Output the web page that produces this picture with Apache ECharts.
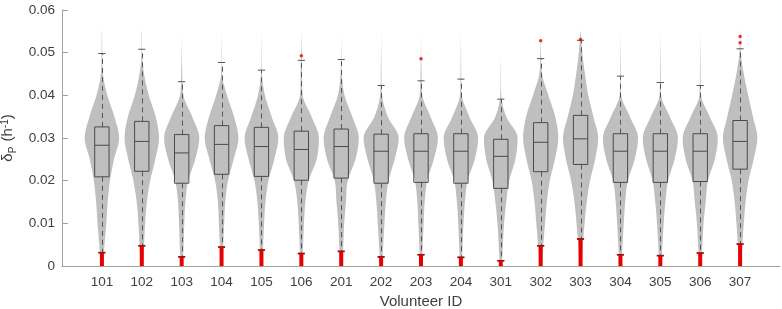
<!DOCTYPE html>
<html>
<head>
<meta charset="utf-8">
<script src="https://cdn.jsdelivr.net/npm/echarts@6/dist/echarts.min.js"></script>
<style>
html,body{margin:0;padding:0;background:#fff;}
#chart{width:782px;height:309px;}
</style>
</head>
<body>
<div id="chart"></div>
<script>
// ---- data ----
const ids = ['101','102','103','104','105','106','201','202','203','204','301','302','303','304','305','306','307'];
const whiskerHigh = [0.0498,0.0508,0.0432,0.0477,0.0459,0.0482,0.0484,0.0423,0.0434,0.0438,0.0391,0.0486,0.0529,0.0445,0.0430,0.0423,0.0509];
const q3          = [0.0326,0.0339,0.0308,0.0329,0.0325,0.0316,0.0321,0.0309,0.0310,0.0310,0.0297,0.0336,0.0353,0.0310,0.0310,0.0310,0.0341];
const median      = [0.0283,0.0292,0.0265,0.0285,0.0280,0.0273,0.0280,0.0269,0.0269,0.0269,0.0257,0.0290,0.0298,0.0269,0.0269,0.0269,0.0292];
const q1          = [0.0209,0.0222,0.0194,0.0215,0.0210,0.0201,0.0206,0.0194,0.0196,0.0194,0.0182,0.0221,0.0238,0.0196,0.0196,0.0198,0.0227];
const whiskerLow  = [0.0032,0.0048,0.0022,0.0045,0.0038,0.0030,0.0035,0.0022,0.0027,0.0021,0.0013,0.0048,0.0064,0.0027,0.0025,0.0031,0.0052];
// low outliers fill the range from 0 up to this value (dense red markers)
const lowOutlierMax = [0.0032,0.0048,0.0022,0.0045,0.0038,0.0030,0.0035,0.0022,0.0027,0.0021,0.0013,0.0048,0.0064,0.0027,0.0025,0.0031,0.0052];
// high outliers
const outlierIds    = ['106','203','302','303','307','307'];
const outlierValues = [0.0493,0.0486,0.0528,0.0531,0.0538,0.0523];
// violin relative density at these levels
const densityLevels = [0,0.005,0.01,0.015,0.02,0.025,0.03,0.035,0.04,0.045,0.05,0.055];
const d101 = [0.08,0.15,0.25,0.33,0.46,0.69,0.98,0.71,0.31,0.06,0.02,0.01];
const d102 = [0.08,0.13,0.19,0.29,0.48,0.77,0.98,0.79,0.40,0.13,0.02,0.01];
const d103 = [0.06,0.11,0.15,0.21,0.37,0.77,1.00,0.60,0.10,0.03,0.01,0.00];
const d104 = [0.06,0.10,0.15,0.21,0.37,0.69,0.96,0.71,0.31,0.03,0.01,0.00];
const d105 = [0.06,0.10,0.15,0.23,0.40,0.73,0.96,0.58,0.20,0.03,0.01,0.00];
const d106 = [0.06,0.10,0.15,0.23,0.42,0.87,1.00,0.58,0.08,0.04,0.02,0.00];
const d201 = [0.06,0.12,0.17,0.27,0.37,0.81,1.00,0.63,0.19,0.04,0.01,0.00];
const d202 = [0.06,0.12,0.19,0.27,0.42,0.77,1.00,0.38,0.06,0.02,0.01,0.00];
const d203 = [0.06,0.10,0.15,0.21,0.35,0.73,0.96,0.54,0.08,0.03,0.01,0.00];
const d204 = [0.06,0.10,0.15,0.23,0.38,0.79,0.98,0.48,0.06,0.02,0.01,0.00];
const d301 = [0.06,0.12,0.19,0.31,0.48,0.83,0.96,0.31,0.03,0.01,0.00,0.00];
const d302 = [0.08,0.15,0.25,0.35,0.52,0.81,1.00,0.83,0.44,0.08,0.02,0.00];
const d303 = [0.08,0.13,0.23,0.35,0.54,0.83,1.00,0.73,0.44,0.25,0.10,0.01];
const d304 = [0.06,0.12,0.19,0.27,0.42,0.81,1.00,0.54,0.05,0.02,0.01,0.00];
const d305 = [0.06,0.12,0.19,0.29,0.44,0.81,1.00,0.54,0.05,0.02,0.01,0.00];
const d306 = [0.06,0.12,0.19,0.31,0.44,0.83,1.00,0.54,0.05,0.02,0.01,0.00];
const d307 = [0.08,0.13,0.21,0.31,0.48,0.77,0.98,0.73,0.46,0.21,0.04,0.01];
const densities = [d101,d102,d103,d104,d105,d106,d201,d202,d203,d204,d301,d302,d303,d304,d305,d306,d307];
const yTicks = [0,0.01,0.02,0.03,0.04,0.05,0.06];

// ---- styles ----
const FONT = 'Liberation Sans, Arial, Helvetica, sans-serif';
const VIOLIN_HALF = 0.44;   // max half width of a violin, in category units
const BOX_HALF = 0.18;
const CAP_HALF = 0.09;
const RED = '#e60000';
const DARK = '#4a4a4a';

// monotone cubic interpolation (rendering only)
function monotone(xs, ys) {
  const n = xs.length, d = [], m = new Array(n);
  for (let i = 0; i < n - 1; i++) d.push((ys[i+1]-ys[i])/(xs[i+1]-xs[i]));
  m[0] = d[0]; m[n-1] = d[n-2];
  for (let i = 1; i < n - 1; i++) m[i] = (d[i-1]*d[i] <= 0) ? 0 : (d[i-1]+d[i])/2;
  for (let i = 0; i < n - 1; i++) {
    if (d[i] === 0) { m[i] = 0; m[i+1] = 0; continue; }
    const a = m[i]/d[i], b = m[i+1]/d[i], s = a*a + b*b;
    if (s > 9) { const t = 3/Math.sqrt(s); m[i] = t*a*d[i]; m[i+1] = t*b*d[i]; }
  }
  return function (x) {
    let i = 0;
    while (i < n - 2 && x > xs[i+1]) i++;
    const h = xs[i+1]-xs[i], t = (x-xs[i])/h, t2 = t*t, t3 = t2*t;
    return (2*t3-3*t2+1)*ys[i] + (t3-2*t2+t)*h*m[i] + (-2*t3+3*t2)*ys[i+1] + (t3-t2)*h*m[i+1];
  };
}

const chart = echarts.init(document.getElementById('chart'), null, {renderer: 'canvas'});
const idx = ids.map((_, i) => [i]);

const option = {
  animation: false,
  grid: {left: 62, right: 2, top: 10, bottom: 43, containLabel: false, outerBoundsMode: 'none'},
  xAxis: {
    type: 'value', min: 0, max: ids.length + 1, interval: 1,
    axisLine: {lineStyle: {color: '#a0a0a0', width: 1}},
    axisTick: {show: false},
    splitLine: {show: false},
    axisLabel: {
      color: '#404040', fontSize: 13.5, fontFamily: FONT, margin: 9,
      formatter: v => (v >= 1 && v <= ids.length) ? ids[v-1] : ''
    },
    name: 'Volunteer ID', nameLocation: 'middle', nameGap: 27,
    nameTextStyle: {color: '#404040', fontSize: 15, fontFamily: FONT}
  },
  yAxis: {
    type: 'value', min: yTicks[0], max: yTicks[yTicks.length-1], interval: 0.01,
    axisLine: {show: true, lineStyle: {color: '#a0a0a0', width: 1}},
    axisTick: {show: true, inside: true, length: 6, lineStyle: {color: '#a0a0a0'}},
    splitLine: {show: false},
    axisLabel: {color: '#404040', fontSize: 13.5, fontFamily: FONT, margin: 7,
      formatter: v => String(+v.toFixed(2))},
    name: '{d|δ}{s|P}{d| (h}{u|-1}{d|)}',
    nameLocation: 'middle', nameGap: 40, nameRotate: 90,
    nameTextStyle: {
      color: '#404040', fontFamily: FONT,
      rich: {
        d: {fontSize: 15, fontFamily: FONT, color: '#404040'},
        s: {fontSize: 10, fontFamily: FONT, color: '#404040', padding: [9, 1, 0, 0]},
        u: {fontSize: 10, fontFamily: FONT, color: '#404040', padding: [0, 0, 7, 0]}
      }
    }
  },
  series: [
    {
      type: 'custom', name: 'violin', data: idx, silent: true, z: 1,
      renderItem: function (params, api) {
        const i = api.value(0), xc = i + 1;
        const f = monotone(densityLevels, densities[i]);
        const top = densityLevels[densityLevels.length-1];
        const right = [], left = [];
        for (let y = 0; y <= top + 1e-9; y += 0.00025) {
          const w = Math.max(0, f(y)) * VIOLIN_HALF;
          right.push(api.coord([xc + w, y]));
          left.push(api.coord([xc - w, y]));
        }
        return {type: 'polygon', shape: {points: right.concat(left.reverse())},
          style: {fill: '#bfbfbf', stroke: null}};
      }
    },
    {
      type: 'custom', name: 'lowOutliers', data: idx, silent: true, z: 2,
      renderItem: function (params, api) {
        const i = api.value(0), xc = i + 1;
        const p0 = api.coord([xc, 0]), p1 = api.coord([xc, lowOutlierMax[i]]);
        return {type: 'group', children: [
          {type: 'rect', shape: {x: p0[0]-2, y: p1[1], width: 4, height: p0[1]-p1[1]}, style: {fill: RED}},
          {type: 'line', shape: {x1: p1[0]-3.5, y1: p1[1]+0.5, x2: p1[0]+3.5, y2: p1[1]+0.5}, style: {stroke: RED, lineWidth: 1.5}}
        ]};
      }
    },
    {
      type: 'custom', name: 'box', data: idx, silent: true, z: 3,
      renderItem: function (params, api) {
        const i = api.value(0), xc = i + 1;
        const c = v => api.coord([xc, v]);
        const xl = api.coord([xc - BOX_HALF, 0])[0], xr = api.coord([xc + BOX_HALF, 0])[0];
        const cl = api.coord([xc - CAP_HALF, 0])[0], cr = api.coord([xc + CAP_HALF, 0])[0];
        const pHi = c(whiskerHigh[i]), pQ3 = c(q3[i]), pMed = c(median[i]), pQ1 = c(q1[i]), pLo = c(whiskerLow[i]);
        const x = Math.round(pHi[0]) + 0.5;
        const dash = {stroke: '#555', lineWidth: 1, lineDash: [5, 4]};
        return {type: 'group', children: [
          {type: 'line', shape: {x1: x, y1: pQ3[1], x2: x, y2: pHi[1]}, style: dash},
          {type: 'line', shape: {x1: x, y1: pQ1[1], x2: x, y2: pLo[1]}, style: dash},
          {type: 'line', shape: {x1: cl, y1: pHi[1], x2: cr, y2: pHi[1]}, style: {stroke: '#555', lineWidth: 1}},
          {type: 'line', shape: {x1: cl, y1: pLo[1], x2: cr, y2: pLo[1]}, style: {stroke: '#7a1a1a', lineWidth: 1}},
          {type: 'rect', shape: {x: xl, y: pQ3[1], width: xr - xl, height: pQ1[1] - pQ3[1]},
            style: {fill: 'none', stroke: DARK, lineWidth: 1}},
          {type: 'line', shape: {x1: xl, y1: pMed[1], x2: xr, y2: pMed[1]}, style: {stroke: DARK, lineWidth: 1}}
        ]};
      }
    },
    {
      type: 'scatter', name: 'outliers', z: 4, silent: true,
      symbol: 'circle', symbolSize: 3.5,
      itemStyle: {color: RED},
      data: outlierIds.map((id, k) => [ids.indexOf(id) + 1, outlierValues[k]])
    }
  ]
};
chart.setOption(option);
</script>
</body>
</html>
